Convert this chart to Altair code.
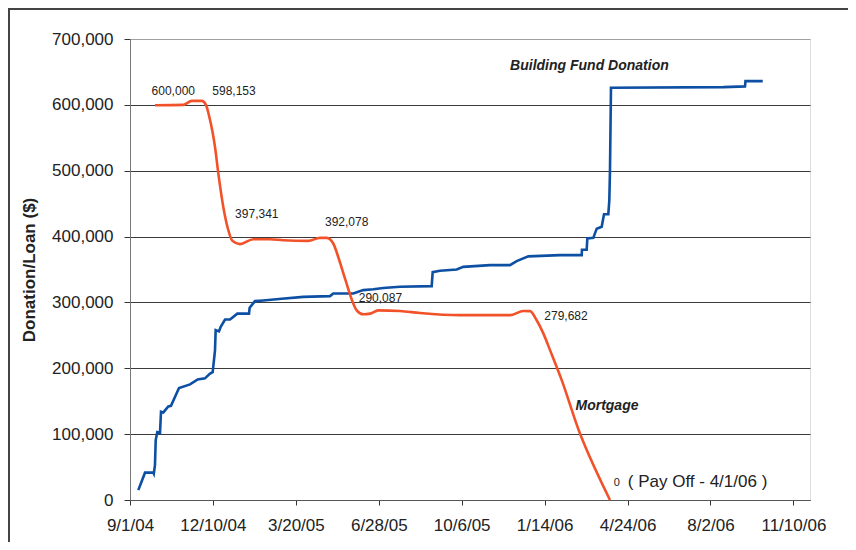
import altair as alt
import pandas as pd

START = pd.Timestamp("2004-09-01")

# Building fund donation (days after 9/1/04, dollars)
donation_day = [10.0, 18.1, 28.1, 28.7, 30.1, 31.0, 32.9, 36.2, 37.4, 40.2, 46.2, 49.4, 59.1, 72.4,
                81.6, 90.4, 96.5, 99.7, 102.5, 103.3, 107.3, 109.4, 114.6, 120.6, 129.4, 143.5,
                144.3, 150.7, 160.7, 182.9, 209.0, 241.2, 245.1, 269.3, 281.3, 293.4, 305.4,
                325.6, 363.8, 365.0, 373.8, 393.9, 401.9, 434.1, 458.2, 466.3, 480.3, 518.5,
                544.7, 545.0, 550.7, 551.5, 558.7, 562.8, 568.8, 571.6, 576.8, 578.0, 578.8,
                580.0, 715.4, 741.6, 742.2, 763.0]
donation_value = [15000, 41500, 41500, 40000, 53000, 91000, 103000, 102000, 134000, 133000, 142000,
                  143000, 170000, 175500, 183000, 184700, 192000, 194000, 227000, 258000, 256000,
                  263000, 274000, 274000, 283000, 283000, 292000, 302000, 303000, 305500, 308500,
                  309600, 313600, 313600, 318700, 320000, 322000, 323700, 324700, 346000, 348000,
                  350000, 354000, 356600, 356600, 362700, 370000, 371800, 371800, 380000, 380000,
                  397000, 398000, 412000, 415000, 434000, 434000, 455000, 500000, 626000, 627000,
                  628000, 636000, 636000]

# Mortgage balance
mortgage_day = [30.1, 64.3, 74.4, 86.5, 91.6, 95.6, 99.2, 102.5, 106.5, 112.5, 118.5, 123.4, 132.6,
                148.7, 168.8, 184.9, 215.0, 229.1, 237.2, 245.1, 252.4, 259.3, 273.4, 281.3, 289.4,
                299.4, 325.6, 349.7, 397.9, 458.2, 474.3, 482.3, 490.4, 498.4, 506.5, 520.6,
                542.6, 546.6, 578.8]
mortgage_value = [599500, 600000, 606000, 606000, 600000, 582000, 561000, 536000, 496000, 445000,
                  410000, 393500, 388500, 396000, 396000, 394500, 393500, 398000, 398000, 389500,
                  364000, 336000, 288000, 282000, 283000, 288000, 287000, 284000, 280700, 280700,
                  287000, 286800, 273000, 253000, 227600, 182000, 101000, 88500, 0]

# Annotations
num_labels = ["600,000", "598,153", "397,341", "392,078", "290,087", "279,682"]
num_day = [52.2, 125.4, 152.9, 261.3, 302.0, 525.8]
num_value = [621800, 621800, 434600, 421800, 306700, 280100]

series_labels = ["Building Fund Donation", "Mortgage"]
series_day = [554.0, 575.2]
series_value = [659000, 142700]

payoff_zero = ["0"]
payoff_zero_day = [586.9]
payoff_zero_value = [26300]
payoff_text = ["( Pay Off - 4/1/06 )"]
payoff_day = [684.4]
payoff_value = [27300]

y_ticks = [0, 100000, 200000, 300000, 400000, 500000, 600000, 700000]
x_tick_dates = [(2004, 9, 1), (2004, 12, 10), (2005, 3, 20), (2005, 6, 28), (2005, 10, 6),
                (2006, 1, 14), (2006, 4, 24), (2006, 8, 2), (2006, 11, 10)]


def iso(days):
    return [(START + pd.Timedelta(days=d)).strftime("%Y-%m-%dT%H:%M:%SZ") for d in days]


don_df = pd.DataFrame({"date": iso(donation_day), "value": donation_value})
mort_df = pd.DataFrame({"date": iso(mortgage_day), "value": mortgage_value})
num_df = pd.DataFrame({"date": iso(num_day), "value": num_value, "label": num_labels})
ser_df = pd.DataFrame({"date": iso(series_day), "value": series_value, "label": series_labels})
zero_df = pd.DataFrame({"date": iso(payoff_zero_day), "value": payoff_zero_value, "label": payoff_zero})
pay_df = pd.DataFrame({"date": iso(payoff_day), "value": payoff_value, "label": payoff_text})

W, H = 680, 461
FONT = "Liberation Sans"

x_scale = alt.Scale(type="utc", nice=False,
                    domain=[alt.DateTime(year=2004, month=9, date=1, utc=True),
                            alt.DateTime(year=2006, month=11, date=30, utc=True)])
y_scale = alt.Scale(domain=[0, 700000], nice=False, zero=True)

x_axis = alt.Axis(values=[alt.DateTime(year=a, month=b, date=c, utc=True) for a, b, c in x_tick_dates],
                  format="%-m/%-d/%y", title=None, grid=False, tickSize=5, labelPadding=12,
                  labelFontSize=17, labelColor="#222", domainColor="#555", tickColor="#333",
                  labelFont=FONT, labelFlush=False, labelOverlap=False)
y_axis = alt.Axis(values=y_ticks, format=",d", title="Donation/Loan ($)", grid=True,
                  gridColor={"condition": {"test": "datum.value == 700000", "value": "#a0a0a0"},
                             "value": "#3a3a3a"},
                  gridWidth=1, tickSize=6, labelPadding=11, labelFontSize=17, labelColor="#222",
                  domainColor="#777", tickColor="#333", labelFont=FONT, titleFont=FONT,
                  titleFontSize=17, titleFontWeight="bold", titleColor="#222",
                  titleX=-92, titleY=H / 2)

X = alt.X("date:T", scale=x_scale, axis=x_axis)
Y = alt.Y("value:Q", scale=y_scale, axis=y_axis)
Xn = alt.X("date:T", scale=x_scale)
Yn = alt.Y("value:Q", scale=y_scale)

donation = alt.Chart(don_df).mark_line(color="#0d4fa3", strokeWidth=2.6).encode(x=X, y=Y)
mortgage = alt.Chart(mort_df).mark_line(color="#f2522a", strokeWidth=2.6,
                                        interpolate="monotone").encode(x=Xn, y=Yn)

nums = alt.Chart(num_df).mark_text(font=FONT, fontSize=12, color="#222", baseline="middle",
                                   align="center").encode(x=Xn, y=Yn, text="label:N")
sers = alt.Chart(ser_df).mark_text(font=FONT, fontSize=14, fontWeight="bold", fontStyle="italic",
                                   color="#222", baseline="middle", align="center").encode(
    x=Xn, y=Yn, text="label:N")
zero = alt.Chart(zero_df).mark_text(font=FONT, fontSize=11, color="#222", baseline="middle",
                                    align="center").encode(x=Xn, y=Yn, text="label:N")
pay = alt.Chart(pay_df).mark_text(font=FONT, fontSize=17, color="#222", baseline="middle",
                                  align="center").encode(x=Xn, y=Yn, text="label:N")

frame_data = alt.Data(values=[{}])
frame_left = alt.Chart(frame_data).mark_rule(color="#444", strokeWidth=2).encode(
    x=alt.value(-121), y=alt.value(-30), y2=alt.value(H + 45))
frame_top = alt.Chart(frame_data).mark_rule(color="#444", strokeWidth=2).encode(
    y=alt.value(-30), x=alt.value(-122), x2=alt.value(W + 40))

chart = alt.layer(donation, mortgage, nums, sers, zero, pay, frame_left, frame_top).properties(
    width=W, height=H,
    autosize=alt.AutoSizeParams(type="none"),
    padding={"left": 122, "top": 31, "right": 38, "bottom": 42},
    background="white",
).configure_view(fill="#e6e7e7", stroke="#9a9a9a", strokeWidth=1.5).configure(font=FONT)

chart.save("out.html", embed_options={"renderer": "svg", "actions": False})
